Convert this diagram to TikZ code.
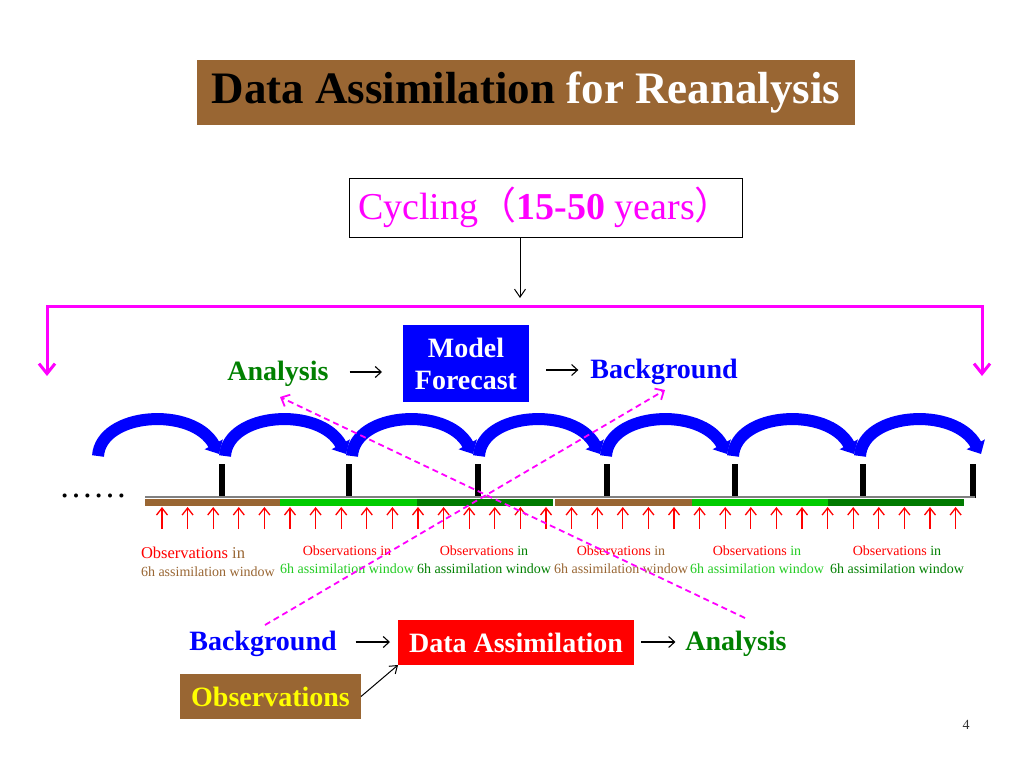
\documentclass[tikz,border=0pt]{standalone}
\usepackage{fontspec}
\setmainfont{Liberation Serif}
\newfontfamily\cjk{Noto Sans CJK SC}
\usetikzlibrary{arrows.meta}
\definecolor{tbrown}{HTML}{996633}
\definecolor{gbright}{HTML}{00CC00}
\definecolor{gbtext}{HTML}{22CC22}
\definecolor{gdark}{HTML}{007A00}
\definecolor{gdtext}{HTML}{008000}
\definecolor{ablue}{HTML}{0000FF}
\definecolor{mag}{HTML}{FF00FF}
\definecolor{ared}{HTML}{FF0000}
\definecolor{ayellow}{HTML}{FFFF00}
\newcommand\fsz[2]{\fontsize{#1}{#2}\selectfont}
\begin{document}
\begin{tikzpicture}[x=1pt,y=-1pt,
  plain/.style={inner sep=0pt, outer sep=0pt},
  bigbold/.style={plain, font=\fsz{28}{32}\bfseries},
  boxnode/.style={plain, align=center, font=\fsz{28}{32}\bfseries},
  txtarrow/.style={draw=black, line width=1.1pt, -{Straight Barb[length=6pt,width=11pt]}},
  magline/.style={draw=mag, line width=3pt, {Straight Barb[length=10pt,width=16pt]}-{Straight Barb[length=10pt,width=16pt]}},
  magdash/.style={draw=mag, line width=1.8pt, dash pattern=on 6pt off 4pt, -{Straight Barb[length=7pt,width=13pt]}},
  bluearc/.style={draw=ablue, line width=12pt, -{Triangle[length=11pt,width=20pt]}},
  redarrow/.style={draw=ared, line width=1.3pt, -{Straight Barb[length=7pt,width=11pt]}},
  lab/.style={plain, align=center, font=\fsz{14}{18}},
]
\useasboundingbox (0,0) rectangle (1024,768);
\fill[white] (0,0) rectangle (1024,768);

% title
\node[plain, fill=tbrown, minimum width=658pt, minimum height=65pt, font=\fsz{45}{50}\bfseries] (title) at (526,92.5) {Data Assimilation \textcolor{white}{for Reanalysis}};

% cycling box
\node[plain, draw=black, line width=1pt, minimum width=393pt, minimum height=59pt, text=mag, font=\fsz{38}{42}] (cyc) at (545.5,207.5) {Cycling{\cjk （}\textbf{15-50} years{\cjk ）}};
\coordinate (topdown) at (520,298);
\draw[line width=1pt, -{Straight Barb[length=8pt,width=11pt]}] (cyc.south -| topdown) -- (topdown);

% magenta bracket
\coordinate (mtopL) at (47,306);
\coordinate (mtopR) at (982,306);
\coordinate (mL) at (47,376);
\coordinate (mR) at (982,376);
\draw[magline] (mL) -- (mtopL) -- (mtopR) -- (mR);

% top row
\node[bigbold, text=gdtext] (an1) at (278,374) {Analysis};
\node[boxnode, fill=ablue, text=white, minimum width=126pt, minimum height=77pt] (mf) at (466,363.5) {Model\\Forecast};
\node[bigbold, text=ablue] (bg1) at (664,372) {Background};
\draw[txtarrow] ([xshift=21pt,yshift=2pt]an1.east) -- ([xshift=-21pt,yshift=2pt]an1.east -| mf.west);
\draw[txtarrow] ([xshift=17pt,yshift=2pt]bg1.west -| mf.east) -- ([xshift=-12pt,yshift=2pt]bg1.west);

% blue arcs
\foreach \i in {0,...,6}{
  \pgfmathsetmacro\xa{98+127*\i}
  \draw[bluearc] (\xa,456) .. controls (\xa+3,412) and (\xa+95,406) .. (\xa+121,454);
}

% ticks
\foreach \xt in {222,349,478,607,735,863,973}{
  \fill[black] (\xt-3,464) rectangle (\xt+3,498);
}

% timeline
\draw[gray, line width=1.5pt] (145,497) -- (975,497);
\fill[tbrown] (145,499) rectangle (280,506);
\fill[gbright] (280,499) rectangle (417,506);
\fill[gdark] (417,499) rectangle (553,506);
\fill[tbrown] (555,499) rectangle (692,506);
\fill[gbright] (692,499) rectangle (828,506);
\fill[gdark] (828,499) rectangle (964,506);

% red observation arrows
\foreach \i in {0,...,31}{
  \draw[redarrow] (162+25.6*\i,529) -- (162+25.6*\i,507);
}

% dots
\node[plain, font=\fsz{34}{38}] (dots) at (93,496) {……};

% labels
\node[plain, align=left, anchor=west, font=\fsz{14}{18}] (l1) at (141,562) {{\fsz{16.5}{18}\textcolor{ared}{Observations} \textcolor{tbrown}{in}}\\\textcolor{tbrown}{6h assimilation window}};
\node[lab] (l2) at (347,560) {\textcolor{ared}{Observations in}\\\textcolor{gbtext}{6h assimilation window}};
\node[lab] (l3) at (484,560) {\textcolor{ared}{Observations} \textcolor{gdtext}{in}\\\textcolor{gdtext}{6h assimilation window}};
\node[lab] (l4) at (621,560) {\textcolor{ared}{Observations} \textcolor{tbrown}{in}\\\textcolor{tbrown}{6h assimilation window}};
\node[lab] (l5) at (757,560) {\textcolor{ared}{Observations} \textcolor{gbtext}{in}\\\textcolor{gbtext}{6h assimilation window}};
\node[lab] (l6) at (897,560) {\textcolor{ared}{Observations} \textcolor{gdtext}{in}\\\textcolor{gdtext}{6h assimilation window}};

% bottom row
\node[bigbold, text=ablue] (bg2) at (263,644) {Background};
\node[boxnode, fill=ared, text=white, minimum width=236pt, minimum height=45pt] (da) at (516,642.5) {Data Assimilation};
\node[bigbold, text=gdtext] (an2) at (736,644) {Analysis};
\node[boxnode, fill=tbrown, text=ayellow, minimum width=181pt, minimum height=45pt] (obs) at (270.5,696.5) {Observations};
\draw[txtarrow] ([xshift=19pt,yshift=2pt]bg2.east) -- ([xshift=-8pt,yshift=2pt]bg2.east -| da.west);
\draw[txtarrow] ([xshift=7pt,yshift=2pt]an2.west -| da.east) -- ([xshift=-10pt,yshift=2pt]an2.west);
\draw[line width=1pt, -{Straight Barb[length=7pt,width=10pt]}] (obs.east) -- (da.south west);

% dashed links
\coordinate (d1s) at (745,618);
\coordinate (d1e) at (280,397);
\coordinate (d2s) at (265,625);
\coordinate (d2e) at (665,390);
\draw[magdash] (d1s) -- (d1e);
\draw[magdash] (d2s) -- (d2e);

% page number
\node[plain, font=\fsz{14}{16}, text=black!80] (pg) at (966,725) {4};
\end{tikzpicture}
\end{document}
